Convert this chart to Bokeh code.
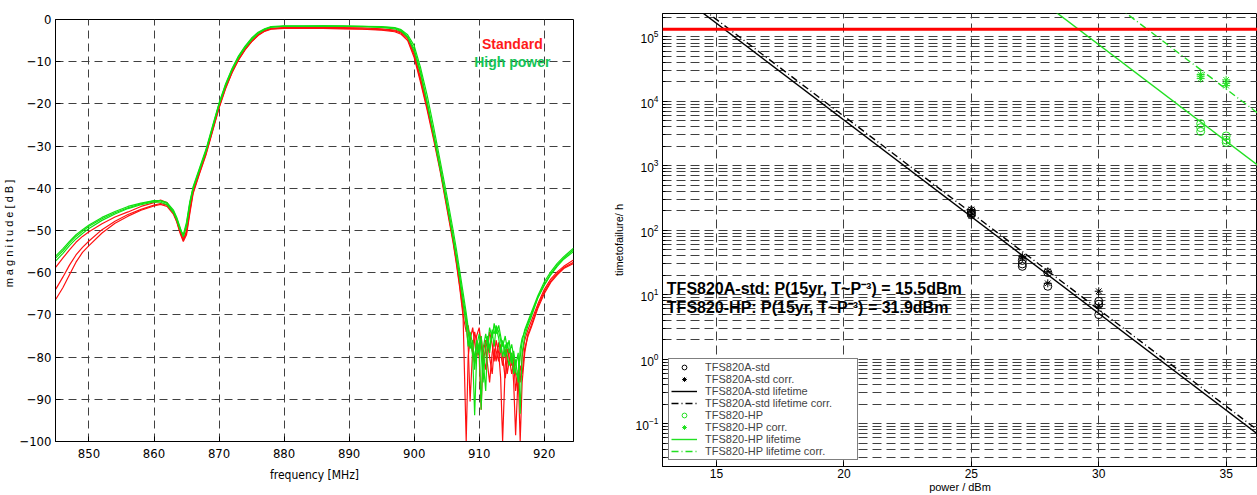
from bokeh.plotting import figure
from bokeh.layouts import row, column
from bokeh.models import Range1d, FixedTicker, Label, Legend, LegendItem, Span
from bokeh.embed import file_html
from bokeh.resources import INLINE

NARROW = "Liberation Sans Narrow, DejaVu Sans Condensed, Liberation Sans"
SANS = "Liberation Sans"

# ---------------- left chart: filter transfer functions ----------------
FREQ = [
    844.9, 846, 847, 848, 849, 850, 852, 854, 856, 858,
    860, 861, 862, 863, 863.5, 864, 864.5, 865, 865.5, 866,
    867, 868, 869, 870, 871, 872, 873, 874, 875, 876,
    877, 878, 880, 883, 886, 889, 892, 895, 897, 898,
    899, 900, 901, 902, 903, 904, 905, 906, 906.5, 907,
    907.5, 908, 908.3, 908.6, 909, 909.3, 909.6, 910, 910.3, 910.6,
    911, 911.3, 911.6, 912, 912.3, 912.6, 913, 913.3, 913.6, 914,
    914.3, 914.6, 915, 915.3, 915.6, 916, 916.3, 916.6, 917, 917.5,
    918, 919, 920, 921, 922, 923, 924.5,
]

RED_1 = [
    -58.7, -56.5, -54.6, -52.8, -51.4, -50.3, -48.4, -46.8, -45.6, -44.3,
    -43.4, -42.8, -43.4, -45.8, -47.8, -50.3, -52.3, -50.0, -45.0, -40.8,
    -36.0, -31.5, -26.0, -20.5, -16.0, -12.3, -9.3, -7.0, -5.1, -3.6,
    -2.6, -2.1, -1.9, -1.9, -1.8, -1.9, -2.0, -2.2, -2.5, -3.0,
    -4.3, -8.0, -14.0, -20.5, -27.5, -35.0, -43.5, -52.0, -57.0, -62.0,
    -67.5, -72.0, -77.0, -90.5, -78.0, -74.0, -76.5, -80.0, -92.5, -79.0,
    -76.0, -78.5, -74.0, -77.0, -81.0, -76.0, -79.0, -85.0, -100.0, -82.0,
    -78.0, -80.0, -84.0, -81.0, -88.0, -83.0, -86.0, -80.0, -76.0, -73.5,
    -71.5, -67.5, -64.0, -61.5, -59.8, -58.5, -57.0,
]
RED_2 = [
    -63.9, -61.0, -58.2, -55.8, -54.0, -52.5, -49.8, -47.8, -46.2, -45.0,
    -44.0, -43.6, -44.0, -45.9, -47.6, -50.0, -52.0, -50.5, -45.5, -41.0,
    -36.3, -31.8, -26.3, -20.8, -16.2, -12.5, -9.5, -7.1, -5.2, -3.7,
    -2.7, -2.2, -2.0, -2.0, -2.0, -2.1, -2.2, -2.4, -2.7, -3.2,
    -4.6, -8.5, -14.5, -21.0, -28.0, -35.5, -44.0, -52.5, -57.5, -63.0,
    -69.0, -100.0, -80.0, -76.0, -73.0, -76.5, -80.0, -77.0, -75.0, -79.5,
    -83.0, -77.0, -80.0, -84.0, -78.0, -81.0, -76.5, -79.0, -82.0, -78.0,
    -84.0, -81.0, -79.0, -86.0, -98.5, -84.0, -100.0, -86.0, -79.0, -74.5,
    -72.5, -68.0, -64.5, -62.0, -60.2, -58.8, -57.5,
]
RED_3 = [
    -66.3, -63.5, -60.5, -57.5, -55.2, -53.6, -50.6, -48.3, -46.6, -45.2,
    -44.2, -43.8, -44.3, -46.2, -48.0, -50.6, -52.6, -51.0, -46.0, -41.3,
    -36.5, -32.0, -26.5, -21.0, -16.4, -12.6, -9.6, -7.2, -5.3, -3.8,
    -2.8, -2.3, -2.1, -2.1, -2.1, -2.2, -2.3, -2.5, -2.9, -3.5,
    -5.0, -9.0, -15.0, -21.5, -28.5, -36.0, -44.5, -53.0, -58.0, -63.5,
    -70.0, -74.0, -72.5, -75.5, -79.0, -81.5, -75.0, -73.0, -77.0, -81.0,
    -78.0, -82.0, -86.0, -79.0, -76.0, -78.5, -81.0, -77.0, -80.0, -85.0,
    -81.5, -78.0, -82.0, -80.0, -84.0, -88.0, -82.0, -84.0, -78.0, -75.0,
    -73.0, -68.5, -65.0, -62.3, -60.5, -59.0, -57.8,
]
GREEN_1 = [
    -56.5, -54.8, -53.0, -51.4, -50.2, -49.0, -47.2, -45.8, -44.6, -43.7,
    -43.0, -43.0, -43.6, -45.5, -47.2, -49.5, -51.3, -48.5, -43.5, -40.0,
    -35.5, -31.0, -25.5, -20.0, -15.5, -11.8, -8.8, -6.5, -4.6, -3.2,
    -2.3, -1.8, -1.6, -1.6, -1.5, -1.6, -1.6, -1.8, -2.0, -2.6,
    -4.0, -7.0, -12.5, -19.5, -27.0, -35.0, -43.0, -51.5, -56.0, -61.0,
    -66.0, -70.5, -74.0, -78.0, -76.0, -83.0, -77.5, -74.5, -79.0, -86.0,
    -77.0, -75.0, -78.0, -73.5, -74.5, -72.5, -74.0, -76.0, -80.0, -77.0,
    -79.5, -82.0, -79.0, -84.0, -80.5, -86.0, -78.0, -75.5, -74.0, -72.0,
    -70.0, -66.0, -63.0, -60.5, -58.5, -56.8, -55.0,
]
GREEN_2 = [
    -57.2, -55.4, -53.6, -52.0, -50.7, -49.5, -47.6, -46.1, -44.8, -43.9,
    -43.2, -43.3, -43.9, -45.8, -47.5, -49.8, -51.0, -48.0, -43.2, -39.7,
    -35.2, -30.7, -25.2, -19.8, -15.3, -11.6, -8.6, -6.3, -4.4, -3.0,
    -2.2, -1.7, -1.5, -1.5, -1.5, -1.5, -1.6, -1.7, -1.9, -2.4,
    -3.6, -6.2, -11.5, -18.0, -25.5, -33.5, -41.5, -50.0, -54.5, -59.5,
    -64.5, -69.5, -73.0, -76.0, -79.5, -93.8, -80.0, -76.5, -92.5, -78.0,
    -74.5, -77.0, -73.0, -75.5, -72.0, -74.5, -72.5, -75.0, -77.5, -75.0,
    -78.0, -76.0, -81.5, -78.5, -82.0, -79.0, -93.4, -79.0, -75.0, -72.5,
    -70.5, -66.0, -62.8, -60.3, -58.2, -56.5, -54.6,
]
GREEN_3 = [
    -56.0, -54.3, -52.6, -51.0, -49.8, -48.7, -46.9, -45.5, -44.3, -43.5,
    -42.9, -42.9, -43.4, -45.2, -46.9, -49.2, -51.5, -49.0, -43.8, -40.2,
    -35.7, -31.2, -25.7, -20.2, -15.7, -12.0, -9.0, -6.7, -4.8, -3.3,
    -2.4, -1.8, -1.6, -1.6, -1.6, -1.6, -1.7, -1.9, -2.2, -2.8,
    -4.2, -7.5, -13.0, -20.0, -27.5, -35.5, -43.5, -52.0, -56.5, -61.5,
    -67.0, -72.5, -77.5, -74.0, -77.0, -80.5, -76.0, -79.5, -75.0, -80.5,
    -88.0, -76.0, -79.0, -74.0, -77.5, -73.0, -75.5, -79.0, -76.0, -80.0,
    -76.5, -79.0, -77.0, -80.0, -83.5, -85.0, -80.0, -76.5, -73.5, -71.5,
    -69.5, -65.5, -62.2, -59.8, -57.8, -56.2, -54.2,
]
RED_TRACES = [RED_3, RED_2, RED_1]
GREEN_TRACES = [GREEN_2, GREEN_3, GREEN_1]

FREQ_TICKS = [850, 860, 870, 880, 890, 900, 910, 920]
MAG_TICKS = [-100, -90, -80, -70, -60, -50, -40, -30, -20, -10, 0]

# ---------------- right chart: lifetime vs power ----------------
STD_P = [25, 25, 25, 27, 27, 27, 28, 28, 30, 30, 30]
STD_T = [200, 185, 175, 34, 30, 27.5, 22, 13.5, 7.9, 7.1, 4.9]
STD_CORR_P = [25, 25, 25, 27, 27, 28, 28, 30, 30]
STD_CORR_T = [210, 190, 165, 39, 37, 23, 15, 11.3, 6.6]
HP_P = [34, 34, 34, 35, 35, 35]
HP_T = [4500, 3900, 3400, 2900, 2500, 2300]
HP_CORR_P = [34, 34, 34, 35, 35, 35]
HP_CORR_T = [26000, 24500, 22500, 21500, 19000, 17500]

STD_FIT_P = [14.0, 37.0]
STD_FIT_T = [3.23e5, 0.0406]
STD_FIT_CORR_T = [3.7e5, 0.0467]
HP_FIT_P = [27.0, 37.0]
HP_FIT_T = [6.0e5, 601]
HP_FIT_CORR_P = [29.0, 37.0]
HP_FIT_CORR_T = [9.75e5, 3880]

LIFETIME_15YR_H = 131400

POWER_TICKS = [15, 20, 25, 30, 35]
TIME_TICKS = [0.1, 1, 10, 100, 1e3, 1e4, 1e5]
TIME_MINOR = [m * 10.0 ** e for e in range(-2, 6) for m in range(2, 10)]

# ================= left figure =================
p1 = figure(width=600, height=495, x_range=Range1d(844.85, 924.5), y_range=Range1d(-100, 0),
            output_backend="svg", toolbar_location=None,
            min_border_left=42, min_border_right=27, min_border_top=19, min_border_bottom=54)
p1.outline_line_color = "black"
p1.outline_line_width = 1
p1.background_fill_color = "white"

for ys in RED_TRACES:
    p1.line(FREQ, ys, line_color="#ff1010", line_width=1.2)
for ys in GREEN_TRACES:
    p1.line(FREQ, ys, line_color="#10e010", line_width=1.2)

p1.xaxis.ticker = FixedTicker(ticks=FREQ_TICKS)
p1.yaxis.ticker = FixedTicker(ticks=MAG_TICKS)
p1.xaxis.axis_label = "frequency [MHz]"
p1.yaxis.axis_label = "m a g n i t u d e   [ d B ]"
for ax in (p1.xaxis[0], p1.yaxis[0]):
    ax.major_tick_in = 5
    ax.major_tick_out = 0
    ax.minor_tick_line_color = None
    ax.axis_line_color = "black"
    ax.major_tick_line_color = "black"
    ax.major_label_text_font = NARROW
    ax.major_label_text_font_size = "13px"
    ax.major_label_text_color = "black"
    ax.axis_label_text_font = NARROW
    ax.axis_label_text_font_style = "normal"
    ax.axis_label_text_color = "black"
p1.xaxis.major_label_standoff = 7
p1.xaxis.axis_label_standoff = 7
p1.xaxis.axis_label_text_font_size = "12px"
p1.yaxis.major_label_standoff = 4
p1.yaxis.axis_label_standoff = 1
p1.yaxis.axis_label_text_font_size = "11px"
p1.yaxis.axis_label_text_font = SANS

p1.grid.grid_line_color = "#404040"
p1.grid.grid_line_dash = "8 5"
p1.grid.grid_line_width = 1

p1.add_layout(Label(x=915.1, y=-5.9, text="Standard", text_color="#ff1a1a",
                    text_font=SANS, text_font_style="bold", text_font_size="14px",
                    text_align="center", text_baseline="middle"))
p1.add_layout(Label(x=915.1, y=-10.0, text="High power", text_color="#14c455",
                    text_font=SANS, text_font_style="bold", text_font_size="14px",
                    text_align="center", text_baseline="middle"))

# ================= right figure =================
p2 = figure(width=657, height=495, x_range=Range1d(12.88, 36.23), y_range=Range1d(0.0216, 2.3e5),
            y_axis_type="log", output_backend="svg", toolbar_location=None,
            min_border_left=62, min_border_right=0, min_border_top=13, min_border_bottom=28)
p2.outline_line_color = "black"
p2.outline_line_width = 1

p2.add_layout(Span(location=LIFETIME_15YR_H, dimension="width", line_color="#ff0000", line_width=3))

HPG = "#22e022"
r_std_fit = p2.line(STD_FIT_P, STD_FIT_T, line_color="black", line_width=1.4)
r_std_fitc = p2.line(STD_FIT_P, STD_FIT_CORR_T, line_color="black", line_width=1.4, line_dash="7 3 1 3")
r_hp_fit = p2.line(HP_FIT_P, HP_FIT_T, line_color=HPG, line_width=1.4)
r_hp_fitc = p2.line(HP_FIT_CORR_P, HP_FIT_CORR_T, line_color=HPG, line_width=1.4, line_dash="7 3 1 3")
r_std = p2.scatter(STD_P, STD_T, marker="circle", size=8, fill_color=None, line_color="black", line_width=1)
r_stdc = p2.scatter(STD_CORR_P, STD_CORR_T, marker="asterisk", size=8, line_color="black", line_width=1)
r_hp = p2.scatter(HP_P, HP_T, marker="circle", size=8, fill_color=None, line_color=HPG, line_width=1)
r_hpc = p2.scatter(HP_CORR_P, HP_CORR_T, marker="asterisk", size=8, line_color=HPG, line_width=1)

p2.xaxis.ticker = FixedTicker(ticks=POWER_TICKS)
p2.yaxis.ticker = FixedTicker(ticks=TIME_TICKS, minor_ticks=TIME_MINOR)
p2.xaxis.axis_label = "power / dBm"
p2.yaxis.axis_label = "timetofailure/ h"
for ax in (p2.xaxis[0], p2.yaxis[0]):
    ax.major_tick_in = 5
    ax.major_tick_out = 0
    ax.minor_tick_in = 3
    ax.minor_tick_out = 0
    ax.axis_line_color = "black"
    ax.major_label_text_font = SANS
    ax.major_label_text_font_size = "12px"
    ax.major_label_text_color = "black"
    ax.axis_label_text_font = SANS
    ax.axis_label_text_font_size = "11px"
    ax.axis_label_text_font_style = "normal"
    ax.axis_label_text_color = "black"
p2.xaxis.minor_tick_line_color = None
p2.xaxis.major_label_standoff = 2
p2.xaxis.axis_label_standoff = 0
p2.yaxis.major_label_standoff = 4
p2.yaxis.axis_label_standoff = 8

p2.grid.grid_line_color = "#404040"
p2.grid.grid_line_dash = "9 5"
p2.ygrid.minor_grid_line_color = "#404040"
p2.ygrid.minor_grid_line_dash = "9 5"

p2.add_layout(Label(x=13.05, y=12.4, text="TFS820A-std: P(15yr, T~P\u207b\u00b3) = 15.5dBm",
                    text_font=SANS, text_font_style="bold", text_font_size="16px",
                    text_baseline="middle", text_align="left", text_color="black"))
p2.add_layout(Label(x=13.05, y=6.38, text="TFS820-HP: P(15yr, T~P\u207b\u00b3) = 31.9dBm",
                    text_font=SANS, text_font_style="bold", text_font_size="16px",
                    text_baseline="middle", text_align="left", text_color="black"))

legend = Legend(items=[
    LegendItem(label="TFS820A-std", renderers=[r_std]),
    LegendItem(label="TFS820A-std corr.", renderers=[r_stdc]),
    LegendItem(label="TFS820A-std lifetime", renderers=[r_std_fit]),
    LegendItem(label="TFS820A-std lifetime corr.", renderers=[r_std_fitc]),
    LegendItem(label="TFS820-HP", renderers=[r_hp]),
    LegendItem(label="TFS820-HP corr.", renderers=[r_hpc]),
    LegendItem(label="TFS820-HP lifetime", renderers=[r_hp_fit]),
    LegendItem(label="TFS820-HP lifetime corr.", renderers=[r_hp_fitc]),
], location=(6, 6))
legend.label_text_font = SANS
legend.label_text_font_size = "11px"
legend.label_height = 12
legend.glyph_height = 12
legend.glyph_width = 26
legend.label_standoff = 8
legend.label_width = 150
legend.spacing = 0
legend.padding = 2
legend.margin = 0
legend.border_line_color = "black"
legend.border_line_width = 1.5
legend.background_fill_color = "white"
legend.background_fill_alpha = 1
p2.add_layout(legend)

layout = row(column(p1), column(p2))
open("out.html", "w").write(file_html(layout, INLINE))
